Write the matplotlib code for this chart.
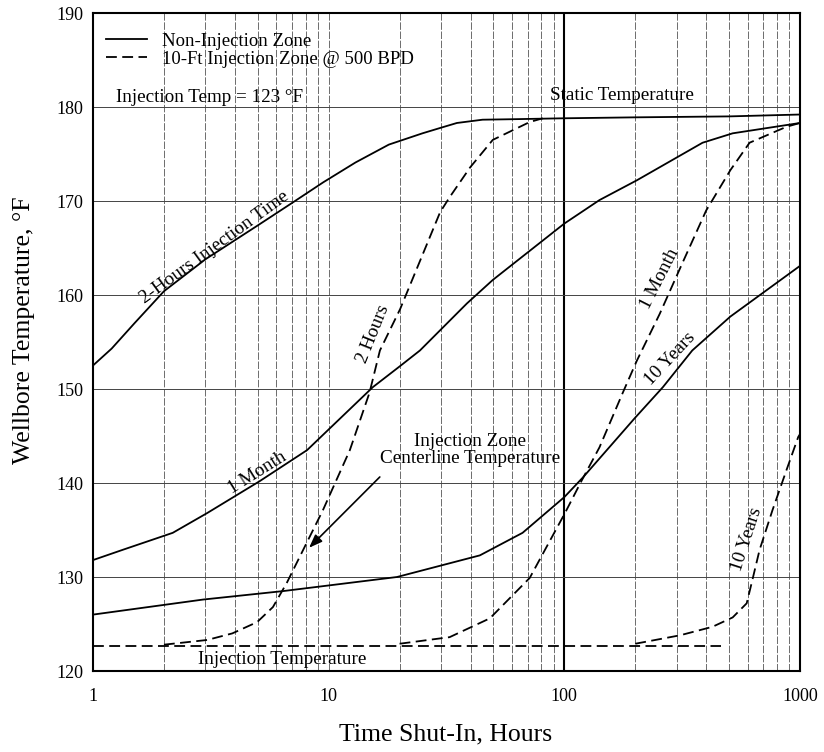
import matplotlib
matplotlib.use("Agg")
import matplotlib.pyplot as plt
import numpy as np

plt.rcParams['font.family'] = ['Liberation Serif', 'DejaVu Serif']

# --- Data ---
# Non-injection zone (solid)
x_2hr = [1, 1.2, 1.5, 2, 3, 5, 7, 9.5, 13, 18, 25, 30, 35, 45, 60, 100, 200, 500, 1000]
y_2hr = [152.5, 154.3, 157.0, 160.4, 163.8, 167.4, 169.8, 172.0, 174.1, 176.0, 177.2, 177.8, 178.3, 178.65, 178.7, 178.8, 178.9, 179.0, 179.2]

x_1mo = [1, 1.34, 2.18, 3.05, 5.1, 8.1, 15.4, 20, 24.4, 38.6, 49.7, 100, 141, 203, 386, 518, 1000]
y_1mo = [131.8, 132.9, 134.7, 136.8, 140.2, 143.5, 150.2, 152.4, 154.1, 159.1, 161.6, 167.6, 170.1, 172.2, 176.2, 177.2, 178.3]

x_10yr = [1, 2.93, 6.4, 19.5, 43.8, 66.5, 100, 120, 199, 262, 349, 506, 1000]
y_10yr = [126.0, 127.6, 128.5, 130.0, 132.3, 134.7, 138.5, 140.6, 146.9, 150.2, 154.1, 157.7, 163.1]

# 10-ft injection zone @ 500 BPD (dashed)
x_2hr_inj = [2, 3.05, 3.9, 4.97, 5.8, 6.65, 7.8, 9.45, 12.3, 14.9, 16.5, 20.1, 29.7, 32.6, 39.9, 49.7, 71.3, 81]
y_2hr_inj = [122.8, 123.3, 124.0, 125.2, 126.8, 129.4, 132.9, 137.1, 143.5, 149.6, 154.1, 158.5, 168.8, 170.4, 173.6, 176.5, 178.4, 178.8]

x_1mo_inj = [20, 32.6, 48.3, 71.3, 100.6, 118.7, 141, 177, 203, 254, 317, 400, 507, 611, 877, 1000]
y_1mo_inj = [122.9, 123.6, 125.6, 129.9, 136.8, 140.3, 143.8, 149.6, 153.0, 158.0, 163.4, 169.0, 173.3, 176.2, 177.9, 178.3]

x_10yr_inj = [200, 310, 425, 518, 594, 624, 674, 764, 877, 983, 1000]
y_10yr_inj = [122.9, 123.8, 124.7, 125.7, 127.2, 129.4, 132.9, 137.1, 141.4, 144.9, 145.2]

x_injline = [1, 460]
y_injline = [122.7, 122.7]

x_ticks = [1, 10, 100, 1000]
x_ticklabels = ['1', '10', '100', '1000']
y_ticks = [120, 130, 140, 150, 160, 170, 180, 190]

# --- Figure ---
fig = plt.figure(figsize=(8.24, 7.52), dpi=100)
ax = fig.add_axes([93/824, 1 - 671/752, (800-93)/824, (671-13)/752])
ax.set_xscale('log')
ax.set_xlim(1, 1000)
ax.set_ylim(120, 190)

# grid
for dec in [1, 10, 100]:
    for m in range(2, 10):
        ax.axvline(dec*m, color='#555555', lw=0.6, ls=(0, (9, 2)), zorder=1)
ax.axvline(10, color='#555555', lw=0.6, ls=(0, (9, 2)), zorder=1)
ax.axvline(100, color='black', lw=1.5, zorder=1)
for yv in range(130, 190, 10):
    ax.axhline(yv, color='#444444', lw=0.7, zorder=1)

lw = 1.3
dash = (0, (6, 3))
l1, = ax.plot(x_2hr, y_2hr, color='black', lw=lw, zorder=3)
ax.plot(x_1mo, y_1mo, color='black', lw=lw, zorder=3)
ax.plot(x_10yr, y_10yr, color='black', lw=lw, zorder=3)
l2, = ax.plot(x_2hr_inj, y_2hr_inj, color='black', lw=lw, ls=dash, zorder=3)
ax.plot(x_1mo_inj, y_1mo_inj, color='black', lw=lw, ls=dash, zorder=3)
ax.plot(x_10yr_inj, y_10yr_inj, color='black', lw=lw, ls=dash, zorder=3)
ax.plot(x_injline, y_injline, color='black', lw=lw, ls=dash, zorder=3)

# ticks
ax.set_xticks(x_ticks)
ax.set_xticklabels(x_ticklabels)
ax.xaxis.set_minor_locator(matplotlib.ticker.NullLocator())
ax.set_yticks(y_ticks)
ax.tick_params(axis='both', length=0, labelsize=13)
ax.tick_params(axis='x', pad=12)
ax.tick_params(axis='y', pad=7)
for s in ax.spines.values():
    s.set_linewidth(1.5)

fig.text(446/824, 1 - 734/752, 'Time Shut-In, Hours', ha='center', va='center', fontsize=18.5)
fig.text(24/824, 1 - 330/752, 'Wellbore Temperature, \u00b0F', ha='center', va='center', rotation=90, fontsize=18.5)

# legend
leg = ax.legend([l1, l2], ['Non-Injection Zone', '10-Ft Injection Zone @ 500 BPD'],
                loc='upper left', bbox_to_anchor=(0.018, 0.97), frameon=False,
                fontsize=13.5, handlelength=2.2, handletextpad=0.8, labelspacing=0.05,
                borderpad=0, borderaxespad=0)

fs = 13.8
ax.text(1.25, 181.0, 'Injection Temp = 123 \u00b0F', ha='left', va='center', fontsize=fs)
ax.text(175, 181.2, 'Static Temperature', ha='center', va='center', fontsize=fs)
ax.text(6.35, 121.2, 'Injection Temperature', ha='center', va='center', fontsize=fs)
ax.text(39.8, 143.5, 'Injection Zone\nCenterline Temperature', ha='center', va='center',
        fontsize=fs, linespacing=1.0)
ax.annotate('', xy=(8.1, 132.9), xytext=(16.8, 140.85),
            arrowprops=dict(arrowstyle='-|>,head_length=0.8,head_width=0.3', color='black', lw=1.2))

def curve_label(txt, x, y, ang, off=1.5):
    r = np.deg2rad(ang)
    ax.annotate(txt, xy=(x, y), xytext=(-np.sin(r)*off, np.cos(r)*off), textcoords='offset points',
                rotation=ang, rotation_mode='anchor', ha='center', va='bottom', fontsize=fs)

curve_label('2-Hours Injection Time', 3.4, 164.5, 36, off=-1)
curve_label('1 Month', 5.2, 140.3, 32, off=0)
curve_label('2 Hours', 17.5, 155.3, 68, off=4)
curve_label('1 Month', 290, 161.0, 63, off=5)
curve_label('10 Years', 300, 152.6, 47, off=0)
curve_label('10 Years', 680, 133.5, 72, off=4)

fig.savefig('out.png', dpi=100)
